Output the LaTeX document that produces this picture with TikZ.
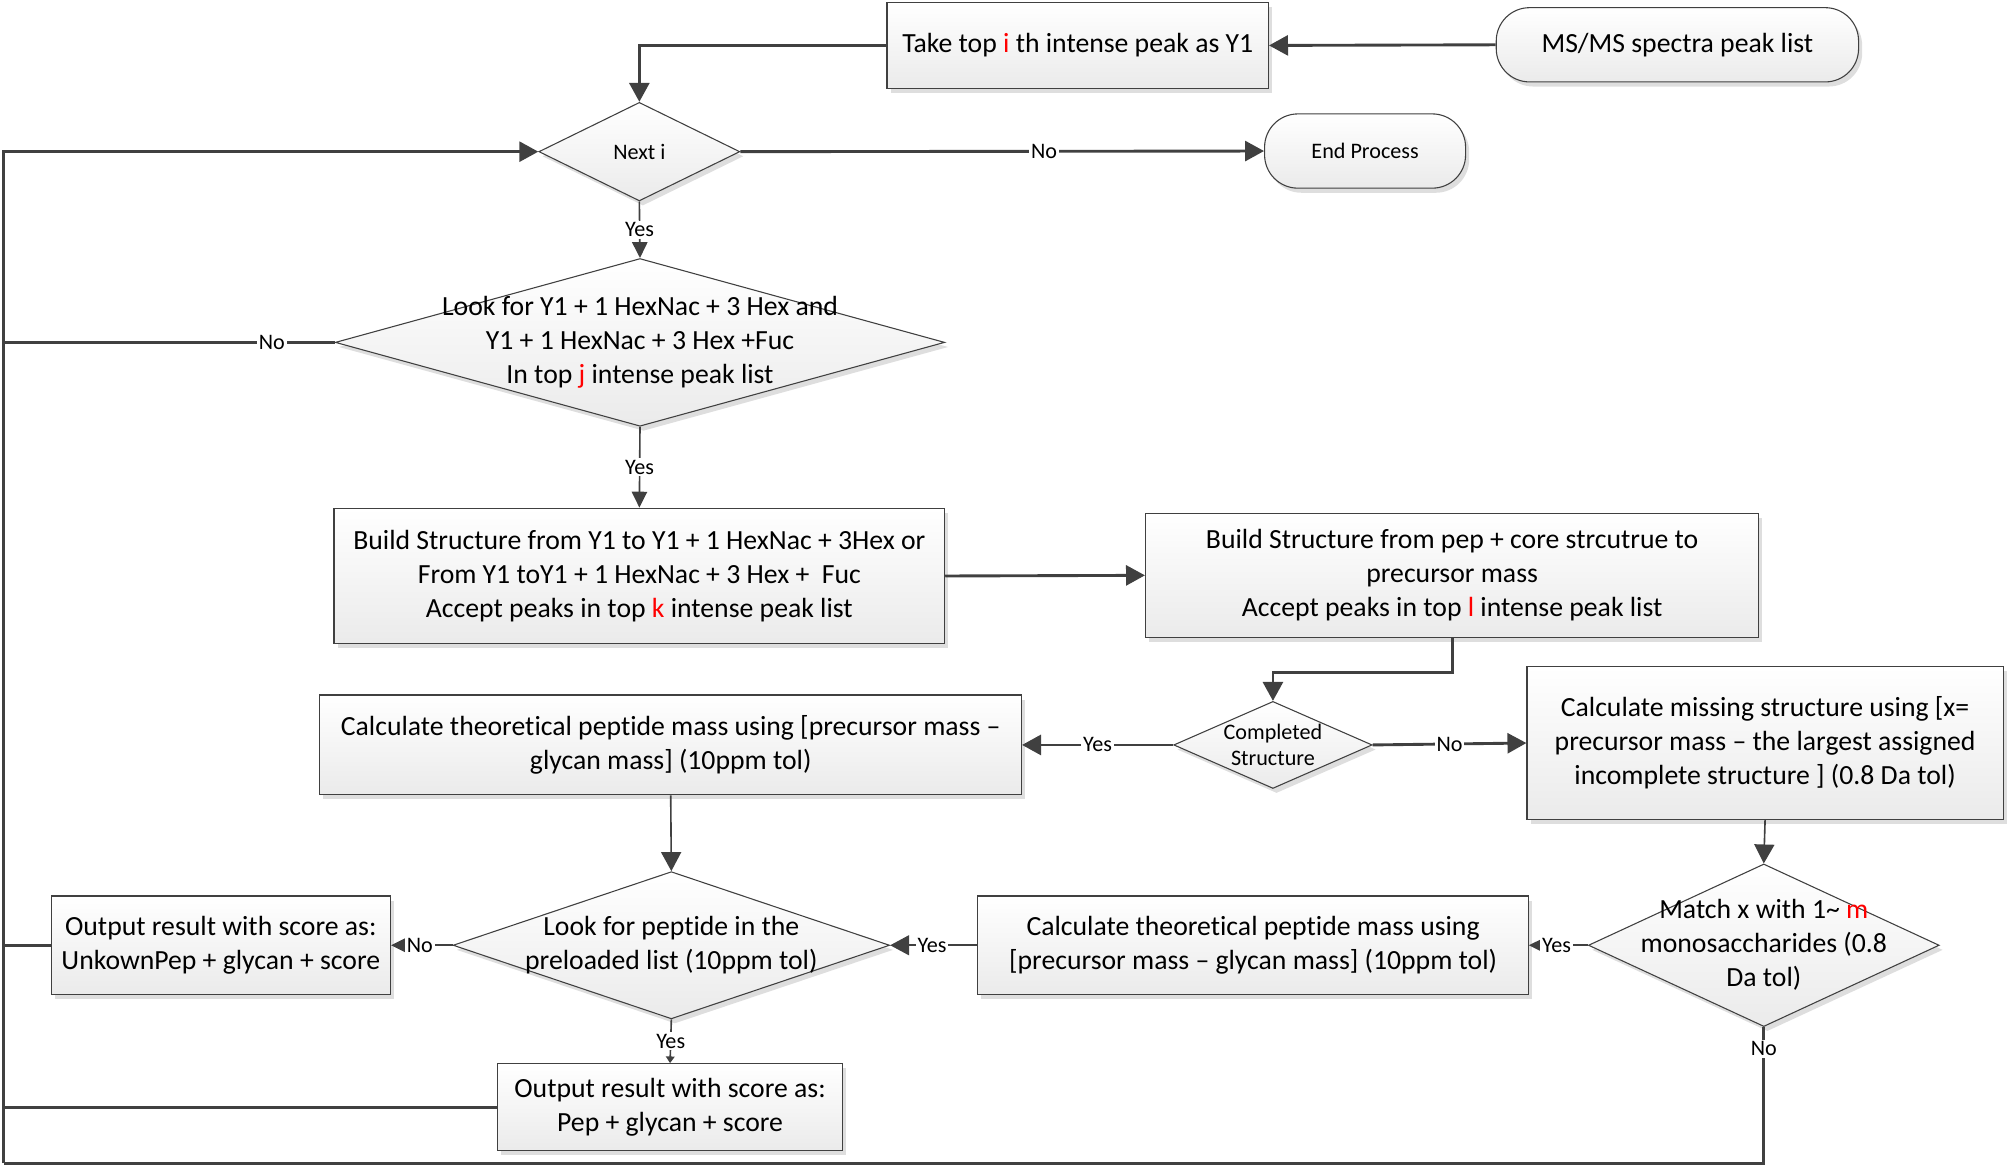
\documentclass[tikz,border=0pt]{standalone}
\usepackage{fontspec}
\setmainfont{Carlito}[Ligatures=NoCommon]
\usepackage{xcolor}
\usepackage{tikz}
\usetikzlibrary{arrows.meta,shapes.geometric,shadows}
\newcommand{\hl}[1]{\textcolor{red}{#1}}

\begin{document}
\begin{tikzpicture}[x=0.025cm, y=-0.025cm,
    >={Triangle[length=0.37cm,width=0.39cm]},
    line/.style={draw=black!75, line width=1.6pt},
    thinline/.style={draw=black!75, line width=0.9pt},
    smallhead/.style={-{Triangle[length=0.31cm,width=0.3cm]}},
    tinyhead/.style={-{Triangle[length=0.13cm,width=0.17cm]}},
    box/.style={draw=black!75, line width=0.6pt, top color=white, bottom color=black!8,
        drop shadow={shadow xshift=0.07cm, shadow yshift=-0.09cm, fill=black!13, opacity=1},
        align=center, font=\fontsize{15.4}{18.9}\selectfont},
    term/.style={box, rounded corners=0.65cm, font=\fontsize{15.4}{18.9}\selectfont},
    decide/.style={box, diamond, inner sep=0pt},
    lbl/.style={fill=white, inner sep=1pt, font=\fontsize{12.3}{14.8}\selectfont}]

    \useasboundingbox (0,0) rectangle (1568,911);

    % Start of the process
    \node[term, minimum width=7.075cm, minimum height=1.45cm] (msms) at (1310.5,35) {MS/MS spectra peak list};
    \node[box, minimum width=7.45cm, minimum height=1.675cm] (take) at (842,35.5) {Take top \hl{i} th intense peak as Y1};
    \node[decide, minimum width=3.925cm, minimum height=1.925cm,
        label={[font=\fontsize{12.3}{14.8}\selectfont]center:{Next i}}] (next) at (499.5,118.5) {};
    \node[term, minimum width=3.925cm, minimum height=1.45cm, font=\fontsize{12.3}{14.8}\selectfont] (endp) at (1066.5,118) {End Process};

    % Core structure search
    \node[decide, minimum width=11.9cm, minimum height=3.275cm,
        label={[align=center, font=\fontsize{15.4}{18.9}\selectfont]center:{Look for Y1 + 1 HexNac + 3 Hex and\\Y1 + 1 HexNac + 3 Hex +Fuc\\In top \hl{j} intense peak list}}] (look) at (500,267.5) {};
    \node[box, minimum width=11.925cm, minimum height=2.65cm] (build1) at (499.5,450)
        {Build Structure from Y1 to Y1 + 1 HexNac + 3Hex or\\From Y1 toY1 + 1 HexNac + 3 Hex +\ \ Fuc\\Accept peaks in top \hl{k} intense peak list};
    \node[box, minimum width=11.975cm, minimum height=2.425cm] (build2) at (1134.5,449.5)
        {Build Structure from pep + core strcutrue to\\precursor mass\\Accept peaks in top \hl{l} intense peak list};
    \node[decide, minimum width=3.875cm, minimum height=1.7cm,
        label={[align=center, font=\fontsize{12.3}{14.8}\selectfont]center:{Completed\\Structure}}] (done) at (994.5,582) {};

    % Mass calculations
    \node[box, minimum width=13.7cm, minimum height=1.95cm] (calc1) at (524,582)
        {Calculate theoretical peptide mass using [precursor mass --\\glycan mass] (10ppm tol)};
    \node[box, minimum width=9.3cm, minimum height=2.975cm] (miss) at (1379,580.5)
        {Calculate missing structure using [x=\\precursor mass -- the largest assigned\\incomplete structure ] (0.8 Da tol)};
    \node[decide, minimum width=6.85cm, minimum height=3.175cm,
        label={[align=center, font=\fontsize{15.4}{18.9}\selectfont]center:{Match x with 1\textasciitilde{} \hl{m}\\monosaccharides (0.8\\Da tol)}}] (match) at (1378,738.5) {};
    \node[box, minimum width=10.75cm, minimum height=1.925cm] (calc2) at (979,738.5)
        {Calculate theoretical peptide mass using\\{[}precursor mass -- glycan mass] (10ppm tol)};

    % Peptide lookup and output
    \node[decide, minimum width=8.525cm, minimum height=2.875cm,
        label={[align=center, font=\fontsize{15.4}{18.9}\selectfont]center:{Look for peptide in the\\preloaded list (10ppm tol)}}] (pepl) at (524.5,738.5) {};
    \node[box, minimum width=6.625cm, minimum height=1.925cm] (out1) at (172.5,738.5)
        {Output result with score as:\\UnkownPep + glycan + score};
    \node[box, minimum width=6.725cm, minimum height=1.7cm] (out2) at (523.5,865)
        {Output result with score as:\\Pep + glycan + score};

    % Return rail on the left
    \coordinate (railtop) at (3,118.5);
    \coordinate (railbot) at (3,909);

    % Connectors
    \draw[line,->] (msms.west) -- (take.east);
    \draw[line,->] (take.west) -| (next.north);
    \draw[line,->] (next.east) -- node[lbl, pos=.58] {No} (endp.west);
    \draw[thinline,smallhead] (next.south) -- node[lbl] {Yes} (look.north);
    \draw[line] (look.west) -- node[lbl, pos=.19] {No} (look.west -| railtop);
    \draw[thinline,smallhead] (look.south) -- node[lbl] {Yes} (build1.north);
    \draw[line,->] (build1.east) -- (build2.west);
    \draw[line,->] (build2.south) -- ++(0,27) -| (done.north);
    \draw[line,->] (done.west) -- node[lbl] {Yes} (calc1.east);
    \draw[line,->] (done.east) -- node[lbl] {No} (miss.west);
    \draw[thinline,->] (miss.south) -- (match.north);
    \draw[thinline,smallhead] (match.west) -- node[lbl, pos=.53] {Yes} (calc2.east);
    \draw[line] (match.south) |- node[lbl, pos=.08] {No} (railbot);
    \draw[thinline,->] (calc2.west) -- node[lbl, pos=.52] {Yes} (pepl.east);
    \draw[thinline,->] (calc1.south) -- (pepl.north);
    \draw[thinline,smallhead] (pepl.west) -- node[lbl, pos=.53] {No} (out1.east);
    \draw[thinline,tinyhead] (pepl.south) -- node[lbl] {Yes} (out2.north);
    \draw[line] (out1.west) -- (out1.west -| railtop);
    \draw[line] (out2.west) -- (out2.west -| railtop);
    \draw[line,->] (railbot) -- (railtop) -- (next.west);
\end{tikzpicture}
\end{document}
